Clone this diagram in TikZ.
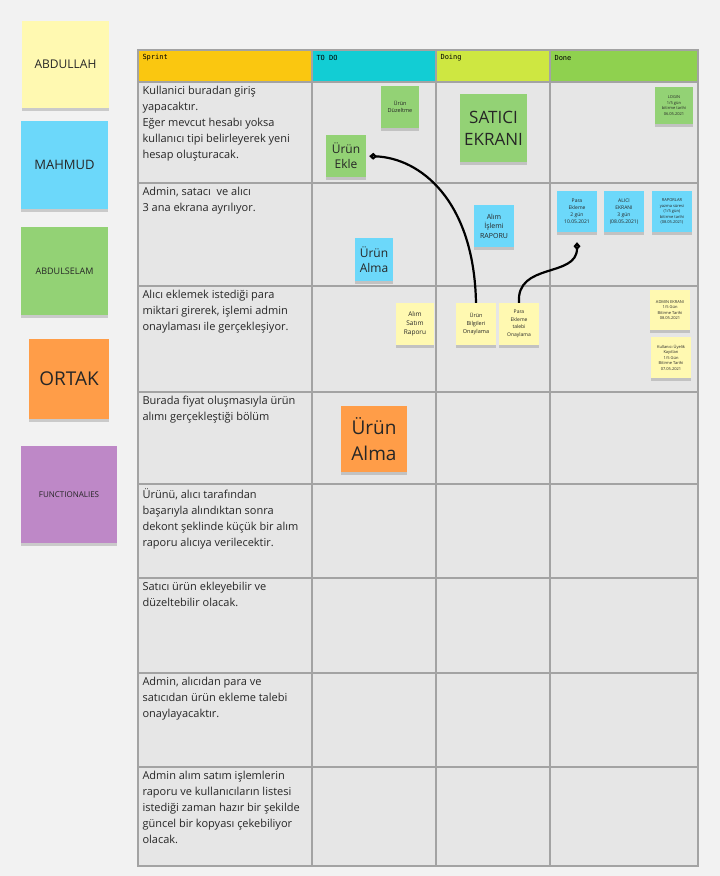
\documentclass[tikz,border=0pt]{standalone}
\usepackage{fontspec}
\setmainfont{Open Sans}
\newfontfamily\kopf{DejaVu Sans Mono}
\usetikzlibrary{arrows.meta,shadows}
\definecolor{hinter}{HTML}{F2F2F2}
\definecolor{zelle}{HTML}{E6E6E6}
\definecolor{rand}{HTML}{A3A3A3}
\definecolor{sprintf}{HTML}{FAC710}
\definecolor{todof}{HTML}{12CDD4}
\definecolor{doingf}{HTML}{CEE741}
\definecolor{donef}{HTML}{8FD14F}
\definecolor{zgelb}{HTML}{FFF9B1}
\definecolor{zblau}{HTML}{6CD8FA}
\definecolor{zgruen}{HTML}{93D275}
\definecolor{zorange}{HTML}{FF9D48}
\definecolor{zlila}{HTML}{BE88C7}
\begin{document}
\begin{tikzpicture}[x=1pt,y=-1pt,
	zettel/.style={align=center,inner sep=0pt,text=black!85,drop shadow={shadow xshift=0pt,shadow yshift=-3pt,opacity=0.35}},
	groesse/.style n args={2}{minimum width=#1pt,minimum height=#2pt},
	gelb/.style={zettel,fill=zgelb},
	blau/.style={zettel,fill=zblau},
	gruen/.style={zettel,fill=zgruen},
	orange/.style={zettel,fill=zorange},
	lila/.style={zettel,fill=zlila},
	zeile/.style={anchor=north west,align=left,text=black!85,font=\fontsize{11}{16}\selectfont},
	titel/.style={anchor=west,font=\kopf\fontsize{7}{9}\selectfont},
	pfeil/.style={line width=2.2pt,-{Diamond[open,length=8pt,width=7pt]}}]
	%Hintergrund
	\fill [hinter] (0,0) rectangle (720,876);
	%Namen links
	\node [gelb,groesse={87}{87},font=\fontsize{12}{14}\selectfont] (abdullah) at (65.5,64.5) {ABDULLAH};
	\node [blau,groesse={87}{88},font=\fontsize{13}{15}\selectfont] (mahmud) at (64.5,165) {MAHMUD};
	\node [gruen,groesse={87}{88},font=\fontsize{9}{11}\selectfont] (abdulselam) at (64.5,271) {ABDULSELAM};
	\node [orange,groesse={80}{80},font=\fontsize{19}{22}\selectfont] (ortak) at (69,379) {ORTAK};
	\node [lila,groesse={96}{97},font=\fontsize{8}{10}\selectfont] (functionalies) at (69,494.5) {FUNCTIONALIES};
	%Tabelle
	\fill [zelle] (138,50) rectangle (698,866);
	\fill [sprintf] (138,50) rectangle (312,82);
	\fill [todof] (312,50) rectangle (436,82);
	\fill [doingf] (436,50) rectangle (550,82);
	\fill [donef] (550,50) rectangle (698,82);
	\draw [rand,line width=1.3pt] (138,50) rectangle (698,866);
	\draw [rand,line width=1.3pt] (312,50) -- (312,866);
	\draw [rand,line width=1.3pt] (436,50) -- (436,866);
	\draw [rand,line width=1.3pt] (550,50) -- (550,866);
	\draw [rand,line width=1.3pt] (138,82) -- (698,82);
	\draw [rand,line width=1.3pt] (138,183) -- (698,183);
	\draw [rand,line width=1.3pt] (138,286) -- (698,286);
	\draw [rand,line width=1.3pt] (138,392) -- (698,392);
	\draw [rand,line width=1.3pt] (138,484) -- (698,484);
	\draw [rand,line width=1.3pt] (138,578) -- (698,578);
	\draw [rand,line width=1.3pt] (138,673) -- (698,673);
	\draw [rand,line width=1.3pt] (138,767) -- (698,767);
	%Kopfzeile
	\node [titel] (sprint) at (139,58) {Sprint};
	\node [titel] (todo) at (313,58) {TO DO};
	\node [titel] (doing) at (437,58) {Doing};
	\node [titel] (done) at (551,58) {Done};
	%Sprint Texte
	\node [zeile] (r1) at (139,83) {Kullanici buradan giriş\\yapacaktır.\\Eğer mevcut hesabı yoksa\\kullanıcı tipi belirleyerek yeni\\hesap oluşturacak.};
	\node [zeile] (r2) at (139,184) {Admin, satacı \ ve alıcı\\3 ana ekrana ayrılıyor.};
	\node [zeile] (r3) at (139,287) {Alıcı eklemek istediği para\\miktari girerek, işlemi admin\\onaylaması ile gerçekleşiyor.};
	\node [zeile] (r4) at (139,393) {Burada fiyat oluşmasıyla ürün\\alımı gerçekleştiği bölüm};
	\node [zeile] (r5) at (139,485) {Ürünü, alıcı tarafından\\başarıyla alındıktan sonra\\dekont şeklinde küçük bir alım\\raporu alıcıya verilecektir.};
	\node [zeile] (r6) at (139,579) {Satıcı ürün ekleyebilir ve\\düzeltebilir olacak.};
	\node [zeile] (r7) at (139,674) {Admin, alıcıdan para ve\\satıcıdan ürün ekleme talebi\\onaylayacaktır.};
	\node [zeile] (r8) at (139,768) {Admin alım satım işlemlerin\\raporu ve kullanıcıların listesi\\istediği zaman hazır bir şekilde\\güncel bir kopyası çekebiliyor\\olacak.};
	%Zettel Zeile 1
	\node [gruen,groesse={38}{42},font=\fontsize{5.5}{7}\selectfont] (duzeltme) at (400,107) {Ürün\\Düzeltme};
	\node [gruen,groesse={67}{68},font=\fontsize{17}{22}\selectfont] (satici) at (493.5,128) {SATICI\\EKRANI};
	\node [gruen,groesse={40}{42},font=\fontsize{12}{15}\selectfont] (ekle) at (346,156) {Ürün\\Ekle};
	\node [gruen,groesse={38}{37},font=\fontsize{4}{5.5}\selectfont] (login) at (674,105.5) {LOGIN\\1/5 gün\\bitirme tarihi\\06.05.2021};
	%Zettel Zeile 2
	\node [blau,groesse={40}{42},font=\fontsize{7}{9.5}\selectfont] (alimrapor) at (494,226) {Alım\\İşlemi\\RAPORU};
	\node [blau,groesse={38}{43},font=\fontsize{12}{15}\selectfont] (alma) at (374,259.5) {Ürün\\Alma};
	\node [blau,groesse={40}{41},font=\fontsize{5}{7}\selectfont] (para) at (577,211.5) {Para\\Ekleme\\2 gün\\10.05.2021};
	\node [blau,groesse={40}{41},font=\fontsize{5}{7}\selectfont] (alici) at (624,211.5) {ALICI\\EKRANI\\3 gün\\(08.05.2021)};
	\node [blau,groesse={40}{41},font=\fontsize{4}{5.5}\selectfont] (raporlar) at (672,211.5) {RAPORLAR\\yazma süresi\\(1/5 gün)\\bitirme tarihi\\(08.05.2021)};
	%Zettel Zeile 3
	\node [gelb,groesse={38}{42},font=\fontsize{6.5}{9}\selectfont] (satim) at (415,324) {Alım\\Satım\\Raporu};
	\node [gelb,groesse={40}{42},font=\fontsize{5.5}{8}\selectfont] (bilgi) at (476,324) {Ürün\\Bilgileri\\Onaylama};
	\node [gelb,groesse={40}{42},font=\fontsize{5}{7.5}\selectfont] (talep) at (519,324) {Para\\Ekleme\\talebi\\Onaylama};
	\node [gelb,groesse={40}{40},font=\fontsize{4}{5.5}\selectfont] (admin) at (670,310) {ADMIN EKRANI\\1/5 Gün\\Bitirme Tarihi\\08.05.2021};
	\node [gelb,groesse={40}{41},font=\fontsize{4}{5.5}\selectfont] (kayit) at (671,357.5) {Kullanıcı Üyelik\\Kayıtları\\1/5 Gün\\Bitirme Tarihi\\07.05.2021};
	%Zettel Zeile 4
	\node [orange,groesse={66}{66},font=\fontsize{19}{26}\selectfont] (alimb) at (374,439) {Ürün\\Alma};
	%Verbindungen
	\draw [pfeil,shorten >=3pt] (bilgi.north) .. controls (474,200) and (420,158) .. (ekle.east);
	\draw [pfeil,shorten >=10pt] (talep.north) .. controls (516,262) and (577,278) .. (para.south);
\end{tikzpicture}
\end{document}
